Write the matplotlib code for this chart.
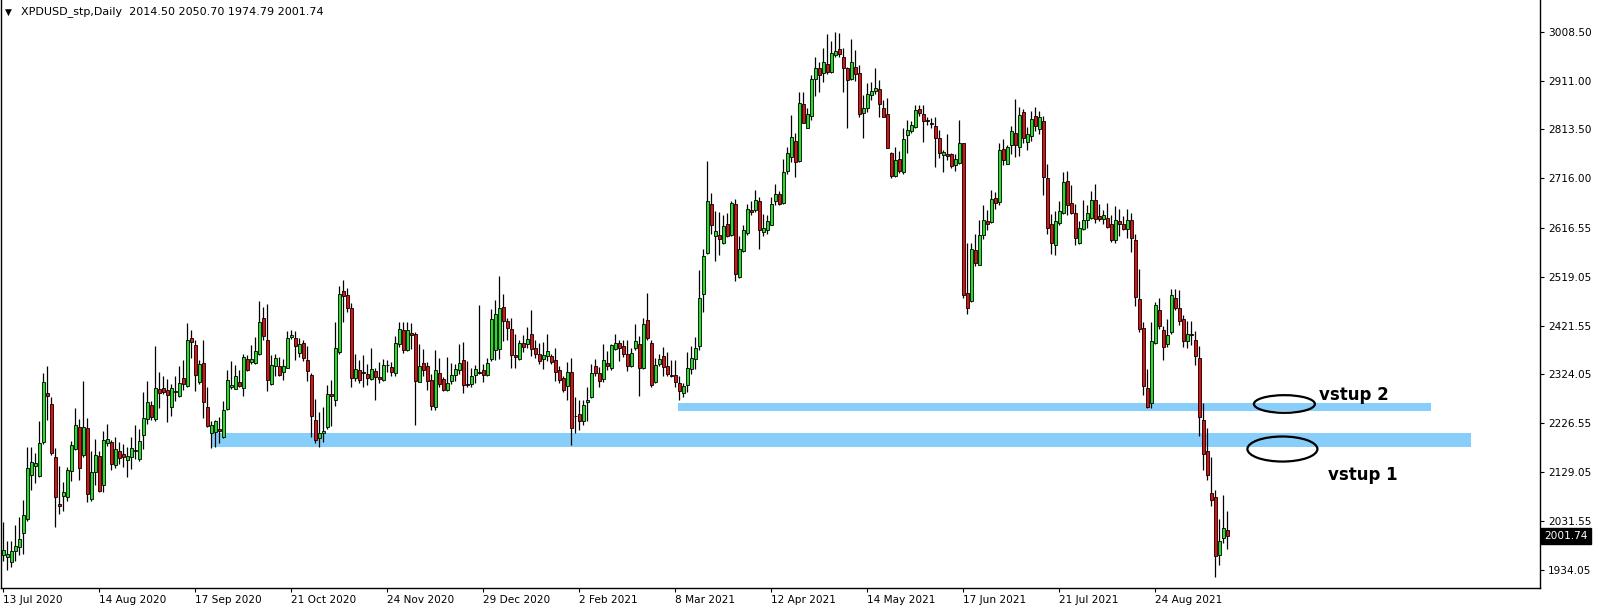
import matplotlib
matplotlib.use("Agg")
import matplotlib.pyplot as plt
from matplotlib.patches import Ellipse, Rectangle
from matplotlib.transforms import blended_transform_factory
import numpy as np

# ---------------- data ----------------
opens = [1964, 1958.7, 1948.7, 1970.7, 1978.7, 2006.7, 2035.3, 2124, 2142, 2122,
         2188.7, 2288, 2265.3, 2160, 2065.3, 2080.7, 2078.7, 2132, 2175.3, 2220,
         2163.3, 2217.3, 2074.7, 2128.7, 2162, 2103.3, 2186.7, 2190, 2142.7, 2172,
         2165.3, 2153.3, 2158.7, 2174, 2155.3, 2203.3, 2235.3, 2264, 2235.3, 2295.3,
         2297.3, 2293.3, 2258.7, 2288.7, 2280.7, 2317.3, 2301.3, 2397.3, 2382, 2308.7,
         2347.3, 2260, 2206.7, 2208.7, 2216, 2198.7, 2255.3, 2298.7, 2295.3, 2310,
         2296.7, 2354, 2348.7, 2346.7, 2365.3, 2437.3, 2392, 2305.3, 2340.7, 2341.3,
         2330, 2337.3, 2398.7, 2397.3, 2367.3, 2387.3, 2352, 2324, 2233.3, 2196.7,
         2206.7, 2218.7, 2285.3, 2273.3, 2368.7, 2490.7, 2482, 2457.3, 2317.3, 2332,
         2330, 2325.3, 2315.3, 2331.3, 2320, 2313.3, 2342, 2338.7, 2327.3, 2385.3,
         2413.3, 2373.3, 2406, 2405.3, 2310, 2347.3, 2341.3, 2314, 2258.7, 2327.3,
         2315.3, 2294, 2312, 2322.7, 2332, 2353.3, 2305.3, 2305.3, 2323.3, 2330,
         2332, 2323.3, 2354, 2373.3, 2375.3, 2458.7, 2430.7, 2415.3, 2363.3, 2354.7,
         2387.3, 2385.3, 2404, 2377.3, 2365.3, 2354, 2360, 2360, 2353.3, 2332,
         2317.3, 2300.7, 2329.3, 2242, 2245.3, 2230.7, 2268.7, 2280, 2341.3, 2327.3,
         2315.3, 2347.3, 2336.7, 2375.3, 2387.3, 2381.3, 2365.3, 2340, 2376.7, 2385.3,
         2337.3, 2433.3, 2387.3, 2310, 2344, 2360, 2340, 2323.3, 2323.3, 2306.7,
         2286.7, 2303.3, 2334.7, 2354.7, 2380.7, 2485.3, 2566.7, 2665.3, 2600.7, 2603.3,
         2587.3, 2625.3, 2602, 2665.3, 2518.7, 2570, 2607.3, 2653.3, 2652, 2670,
         2608.7, 2613.3, 2623.3, 2670.7, 2685.3, 2667.3, 2730.7, 2758.7, 2790, 2750.7,
         2863.3, 2816.7, 2840.7, 2913.3, 2935.3, 2925.3, 2944, 2927.3, 2962, 2973.3,
         2958.7, 2935.3, 2913.3, 2938.7, 2926.7, 2845.3, 2855.3, 2881.3, 2889.3, 2894,
         2855.3, 2843.3, 2765.3, 2720.7, 2755.3, 2728.7, 2802, 2810.7, 2817.3, 2854,
         2844, 2832, 2825.3, 2820, 2795.3, 2762.7, 2763.3, 2763.3, 2742.7, 2747.3,
         2785.3, 2487.3, 2470.7, 2573.3, 2543.3, 2602, 2630, 2628.7, 2676.7, 2668.7,
         2774, 2745.3, 2782, 2805.3, 2778.7, 2847.3, 2787.3, 2800, 2840, 2815,
         2830, 2717.3, 2625.3, 2583.3, 2627.3, 2647.3, 2710.7, 2667.3, 2647.3, 2587.3,
         2614, 2633.3, 2637.3, 2672, 2640, 2634, 2637.3, 2624, 2592, 2630,
         2624, 2614, 2633.3, 2592, 2475.3, 2417.3, 2297.3, 2266.7, 2387.3, 2453.3,
         2413.3, 2385.3, 2408.7, 2477.3, 2457.3, 2434, 2390.7, 2405.3, 2393.3, 2357.3,
         2233.3, 2172, 2087.3, 2080, 1963.3, 1996.7, 2014.50]
highs = [2030, 1990.7, 1990.7, 2024, 2040, 2073.3, 2178.7, 2178.7, 2166.7, 2232,
         2326.7, 2340, 2280, 2177.3, 2142, 2108.7, 2140, 2192, 2257.3, 2235.3,
         2312, 2237.3, 2172, 2195.3, 2172, 2212, 2225.3, 2193.3, 2200, 2188.7,
         2185.3, 2178.7, 2198.7, 2223.3, 2215.3, 2290, 2312, 2272, 2380, 2330,
         2322, 2315.3, 2305.3, 2322, 2340, 2352, 2426.7, 2413.3, 2393.3, 2353.3,
         2393.3, 2300, 2232, 2233.3, 2238.7, 2272, 2333.3, 2350.7, 2342, 2332,
         2365.3, 2363.3, 2383.3, 2398.7, 2470.7, 2458.7, 2465.3, 2363.3, 2365.3, 2358.7,
         2355.3, 2410.7, 2412, 2410, 2397.3, 2393.3, 2380, 2326.7, 2275.3, 2250,
         2258.7, 2303.3, 2314, 2428.7, 2500, 2512, 2496, 2466.7, 2364, 2352,
         2362, 2345.3, 2377.3, 2337.3, 2348.7, 2355.3, 2353.3, 2348.7, 2400, 2428.7,
         2428.7, 2428.7, 2426.7, 2408.7, 2384, 2375.3, 2348.7, 2325.3, 2372, 2357.3,
         2320, 2358.7, 2346.7, 2344, 2384, 2388.7, 2350.7, 2337.3, 2342, 2462,
         2344, 2357.3, 2455.3, 2472, 2520, 2484, 2437.3, 2437.3, 2405.3, 2393.3,
         2402, 2418.7, 2453.3, 2393.3, 2387.3, 2388.7, 2405.3, 2364, 2377.3, 2340,
         2322, 2348.7, 2357.3, 2280, 2273.3, 2273.3, 2298.7, 2344, 2355.3, 2338.7,
         2385.3, 2370.7, 2385.3, 2405.3, 2393.3, 2392, 2392, 2377.3, 2424, 2400,
         2437.3, 2487.3, 2393.3, 2357.3, 2365.3, 2378.7, 2368.7, 2352, 2353.3, 2322,
         2306.7, 2368.7, 2380, 2398.7, 2532, 2575.3, 2750, 2687.3, 2650, 2648.7,
         2642, 2646.7, 2670, 2675.3, 2600.7, 2622, 2664, 2670, 2693.3, 2678.7,
         2644, 2642, 2678.7, 2705.3, 2690, 2755.3, 2778.7, 2842, 2805.3, 2888.7,
         2888.7, 2855.3, 2922, 2958.7, 2948.7, 2975.3, 3004, 2990.7, 3008.7, 3005.3,
         2975.3, 2938.7, 2993.3, 2972, 2942, 2882, 2905.3, 2908.7, 2935.3, 2912,
         2872, 2875.3, 2768.7, 2778.7, 2770.7, 2815.3, 2832, 2830.7, 2862, 2862,
         2862, 2838.7, 2835.3, 2838.7, 2812, 2772, 2804, 2765.3, 2764, 2832,
         2786.7, 2586.7, 2586.7, 2604, 2633.3, 2662, 2652, 2692, 2688.7, 2785.3,
         2793.3, 2782, 2820, 2873.3, 2858.7, 2853.3, 2818.7, 2850, 2858, 2850,
         2840, 2745.3, 2644, 2650, 2670.7, 2728.7, 2730.7, 2702, 2664, 2630,
         2672, 2662, 2690, 2704, 2665.3, 2653.3, 2667.3, 2642, 2660, 2655.3,
         2640, 2655.3, 2646.7, 2605.3, 2535.3, 2428.7, 2335.3, 2428.7, 2468.7, 2477.3,
         2420, 2435.3, 2494, 2494, 2492, 2442, 2430, 2430, 2410, 2380,
         2266.7, 2217.3, 2160, 2093.3, 2035.3, 2084, 2050.70]
lows = [1952, 1933.3, 1938.7, 1952, 1964, 1965.3, 2030.7, 2093.3, 2106.7, 2118.7,
        2185.3, 2233.3, 2164, 2018.7, 2045.3, 2052, 2072, 2112, 2173.3, 2113.3,
        2160, 2068.7, 2072, 2104, 2088.7, 2088.7, 2182, 2134, 2137.3, 2145.3,
        2138.7, 2118.7, 2135.3, 2155.3, 2152, 2175.3, 2225.3, 2233.3, 2230.7, 2256.7,
        2285.3, 2228.7, 2240.7, 2272, 2278.7, 2294, 2298.7, 2357.3, 2290.7, 2305.3,
        2237.3, 2218.7, 2177.3, 2178.7, 2186.7, 2197.3, 2254, 2294.7, 2294.7, 2298.7,
        2282, 2330.7, 2345.3, 2344, 2363.3, 2392, 2290.7, 2304, 2322, 2322,
        2313.3, 2336, 2394.7, 2353.3, 2358.7, 2350.7, 2310.7, 2200, 2186.7, 2178.7,
        2188.7, 2215.3, 2222, 2262, 2365.3, 2428.7, 2448.7, 2300, 2312, 2307.3,
        2300, 2304, 2313.3, 2273.3, 2306.7, 2312, 2328.7, 2322, 2322, 2378.7,
        2366.7, 2370.7, 2375.3, 2223.3, 2308.7, 2322, 2293.3, 2254, 2253.3, 2300,
        2290.7, 2290.7, 2305.3, 2312, 2325.3, 2286.7, 2300, 2300, 2306.7, 2325.3,
        2308.7, 2322, 2350.7, 2353.3, 2355.3, 2390.7, 2392, 2337.3, 2337.3, 2353.3,
        2368.7, 2377.3, 2360, 2357.3, 2345.3, 2334, 2350.7, 2345.3, 2310.7, 2306.7,
        2288.7, 2273.3, 2183.3, 2206.7, 2213.3, 2224, 2232, 2277.3, 2322, 2298.7,
        2308.7, 2332, 2333.3, 2373.3, 2350.7, 2358.7, 2330.7, 2338.7, 2373.3, 2282,
        2335.3, 2392, 2298.7, 2306.7, 2340, 2322, 2322, 2318.7, 2298.7, 2273.3,
        2278.7, 2288.7, 2325.3, 2334, 2372, 2448.7, 2564, 2604, 2550.7, 2562,
        2585.3, 2598.7, 2600.7, 2510.7, 2517.3, 2568.7, 2602, 2642, 2648.7, 2575.3,
        2600.7, 2605.3, 2622, 2663.3, 2663.3, 2665.3, 2725.3, 2748.7, 2718.7, 2748.7,
        2825.3, 2815.3, 2832, 2880, 2888.7, 2908.7, 2924, 2926.7, 2958.7, 2958.7,
        2888.7, 2815.3, 2912, 2910.7, 2837.3, 2795.3, 2848.7, 2872, 2884, 2838.7,
        2837.3, 2775.3, 2716.7, 2718, 2726.7, 2724, 2765.3, 2805.3, 2815.3, 2840,
        2787.3, 2822, 2815.3, 2738.7, 2757.3, 2728.7, 2752, 2737.3, 2730.7, 2745.3,
        2477.3, 2445.3, 2468.7, 2540, 2542, 2595.3, 2612, 2626.7, 2655.3, 2662,
        2742, 2744, 2764, 2758.7, 2760, 2785.3, 2772, 2790, 2810, 2805,
        2682, 2605.3, 2565.3, 2563.3, 2622, 2645.3, 2642, 2645.3, 2583.3, 2585.3,
        2612, 2616.7, 2635.3, 2626.7, 2630, 2625.3, 2616.7, 2588.7, 2586.7, 2600,
        2612, 2597.3, 2568.7, 2460.7, 2408.7, 2284, 2257.3, 2257.3, 2385.3, 2415.3,
        2352, 2378.7, 2405.3, 2453.3, 2423.3, 2378.7, 2377.3, 2382, 2342, 2202,
        2134, 2114, 2062, 1918.7, 1944, 1986.7, 1974.79]
closes = [1973.3, 1965.3, 1972, 1982, 1995.3, 2044, 2137.3, 2148.7, 2147.3, 2186.7,
          2310, 2280.7, 2166.7, 2078.7, 2060.7, 2088.7, 2133.3, 2184, 2223.3, 2137.3,
          2219.3, 2085.3, 2129.3, 2163.3, 2090.7, 2193.3, 2195.3, 2145.3, 2175.3, 2157.3,
          2158.7, 2162, 2177.3, 2172, 2192, 2237.3, 2269.3, 2238.7, 2297.3, 2287.3,
          2288.7, 2283.3, 2297.3, 2292, 2307.3, 2305.3, 2392, 2388.7, 2322.7, 2345.3,
          2268.7, 2221.3, 2224, 2231.3, 2210.7, 2253.3, 2314, 2303.3, 2321.3, 2302,
          2359.3, 2333.3, 2354, 2370, 2428, 2400.7, 2313.3, 2343.3, 2357.3, 2323.3,
          2341.3, 2397.3, 2403.3, 2381.3, 2385.3, 2356.7, 2330.7, 2240.7, 2193.3, 2207.3,
          2211.3, 2285.3, 2280.7, 2377.3, 2484, 2480, 2457.3, 2317.3, 2335.3, 2313.3,
          2326.7, 2317.3, 2335.3, 2320, 2315.3, 2342.7, 2343.3, 2328.7, 2387.3, 2415.3,
          2373.3, 2412, 2403.3, 2312, 2340, 2333.3, 2310.7, 2260.7, 2332, 2305.3,
          2293.3, 2307.3, 2323.3, 2334, 2347.3, 2303.3, 2302.7, 2321.3, 2334, 2326.7,
          2323.3, 2347.3, 2435.3, 2445.3, 2457.3, 2430.7, 2417.3, 2363.3, 2358.7, 2387.3,
          2378.7, 2395.3, 2374.7, 2364.7, 2350.7, 2363.3, 2370, 2348.7, 2328.7, 2313.3,
          2293.3, 2329.3, 2217.3, 2240.7, 2230.7, 2263.3, 2273.3, 2327.3, 2326.7, 2310.7,
          2353.3, 2340, 2382, 2387.3, 2376.7, 2364, 2340, 2367.3, 2390, 2337.3,
          2425.3, 2396.7, 2303.3, 2343.3, 2354, 2338.7, 2325.3, 2322, 2308.7, 2292,
          2300.7, 2337.3, 2357.3, 2376.7, 2477.3, 2560, 2670, 2623.3, 2610, 2595.3,
          2621.3, 2600.7, 2667.3, 2525.3, 2575.3, 2612, 2655.3, 2648.7, 2673.3, 2612,
          2617.3, 2630, 2665.3, 2684, 2665.3, 2728.7, 2765.3, 2798.7, 2748.7, 2865.3,
          2826.7, 2843.3, 2913.3, 2935.3, 2922, 2947.3, 2928.7, 2965.3, 2970.7, 2963.3,
          2935.3, 2912, 2948.7, 2924, 2843.3, 2855.3, 2883.3, 2890.7, 2895.3, 2863.3,
          2838.7, 2776.7, 2720.7, 2753.3, 2730.7, 2794, 2812, 2822, 2852, 2845.3,
          2830.7, 2830.7, 2824, 2795.3, 2765.3, 2767.3, 2760, 2740.7, 2754, 2785.3,
          2482, 2456.7, 2575.3, 2546.7, 2603.3, 2632, 2625.3, 2674, 2666.7, 2772,
          2752, 2777.3, 2810, 2782, 2842, 2795.3, 2804, 2835, 2820, 2838,
          2718.7, 2617.3, 2587.3, 2630.7, 2650.7, 2708.7, 2663.3, 2647.3, 2596.7, 2617.3,
          2633.3, 2647.3, 2673.3, 2635.3, 2634, 2643.3, 2618.7, 2592, 2632, 2625.3,
          2614, 2633.3, 2597.3, 2478.7, 2414, 2302, 2258.7, 2390, 2462, 2420.7,
          2378.7, 2403.3, 2482, 2456.7, 2430.7, 2390.7, 2405.3, 2402, 2360.7, 2238.7,
          2165.3, 2123.3, 2073.3, 1960.7, 1992, 2017.3, 2001.74]

date_labels = ["13 Jul 2020", "14 Aug 2020", "17 Sep 2020", "21 Oct 2020", "24 Nov 2020",
               "29 Dec 2020", "2 Feb 2021", "8 Mar 2021", "12 Apr 2021", "14 May 2021",
               "17 Jun 2021", "21 Jul 2021", "24 Aug 2021"]
date_label_bars = [0, 24, 48, 72, 96, 120, 144, 168, 192, 216, 240, 264, 288]

price_ticks = [3008.50, 2911.00, 2813.50, 2716.00, 2616.55, 2519.05, 2421.55,
               2324.05, 2226.55, 2129.05, 2031.55, 1934.05]
price_tick_labels = ["3008.50", "2911.00", "2813.50", "2716.00", "2616.55", "2519.05",
                     "2421.55", "2324.05", "2226.55", "2129.05", "2031.55", "1934.05"]

title = "XPDUSD_stp,Daily  2014.50 2050.70 1974.79 2001.74"
last_price = 2001.74

# support zones: (start bar, end bar, low price, high price)
zone_entry1 = (51.9, 366.9, 2178.7, 2206.7)
zone_entry2 = (168.7, 356.9, 2252.0, 2266.7)

# ---------------- figure ----------------
W, H = 1604, 614
fig = plt.figure(figsize=(W / 100, H / 100), dpi=100)
fig.patch.set_facecolor("white")
ax_left, ax_right, ax_bottom, ax_top = 1, 1540, 588, 0
ax = fig.add_axes([ax_left / W, (H - ax_bottom) / H,
                   (ax_right - ax_left) / W, (ax_bottom - ax_top) / H])
ax.set_facecolor("white")

n = len(opens)
x = np.arange(n)
o = np.array(opens); h = np.array(highs); l = np.array(lows); c = np.array(closes)
up = c >= o

GREEN = "#22e022"
RED = "#e01010"

# wicks
ax.vlines(x, l, h, color="black", linewidth=0.9, zorder=2)
# bodies
body_bottom = np.minimum(o, c)
body_h = np.maximum(np.abs(c - o), 0.6)
colors = np.where(up, GREEN, RED)
ax.bar(x, body_h, bottom=body_bottom, width=0.72, color=colors,
       edgecolor="black", linewidth=0.6, zorder=3)

# zones
for (x0, x1, y0, y1) in (zone_entry1, zone_entry2):
    ax.add_patch(Rectangle((x0, y0), x1 - x0, y1 - y0, facecolor="#87cefa",
                           edgecolor="none", zorder=1))

# ellipses and labels
ax.add_patch(Ellipse((320.3, 2265.1), 15.25, 35.3, fill=False, edgecolor="black",
                     linewidth=1.6, zorder=4))
ax.add_patch(Ellipse((319.8, 2175.2), 17.5, 50.0, fill=False, edgecolor="black",
                     linewidth=1.6, zorder=4))
ax.text(328.9, 2283.0, "vstup 2", fontsize=12, fontweight="bold",
        family="DejaVu Sans", ha="left", va="center", zorder=5)
ax.text(331.2, 2124.3, "vstup 1", fontsize=12, fontweight="bold",
        family="DejaVu Sans", ha="left", va="center", zorder=5)

# axes limits
ax.set_xlim(-0.575, 384.2)
ax.set_ylim(1897.7, 3071.8)

# ticks
ax.yaxis.tick_right()
ax.set_yticks(price_ticks)
ax.set_yticklabels(price_tick_labels)
ax.set_xticks(date_label_bars)
ax.set_xticklabels(date_labels, ha="left")
ax.tick_params(axis="y", direction="out", length=3, width=0.8, pad=3.0,
               labelsize=7.6, colors="black")
ax.tick_params(axis="x", direction="out", length=3, width=0.8, pad=2,
               labelsize=7.6, colors="black")

for side in ("left", "right", "bottom"):
    ax.spines[side].set_color("black")
    ax.spines[side].set_linewidth(1.0)
ax.spines["top"].set_visible(False)

# last price box
trans = blended_transform_factory(ax.transAxes, ax.transData)
ax.text(1.003, last_price, f"{last_price:.2f}", transform=trans, ha="left",
        va="center", fontsize=7.6, color="white", zorder=6, clip_on=False,
        bbox=dict(boxstyle="square,pad=0.3", facecolor="black", edgecolor="black"))

# title
fig.text(5 / W, 1 - 12 / H, "\u25bc", fontsize=6.5, ha="left", va="center")
fig.text(21 / W, 1 - 12 / H, title, fontsize=8, ha="left", va="center")

fig.savefig("out.png", dpi=100, facecolor="white")
